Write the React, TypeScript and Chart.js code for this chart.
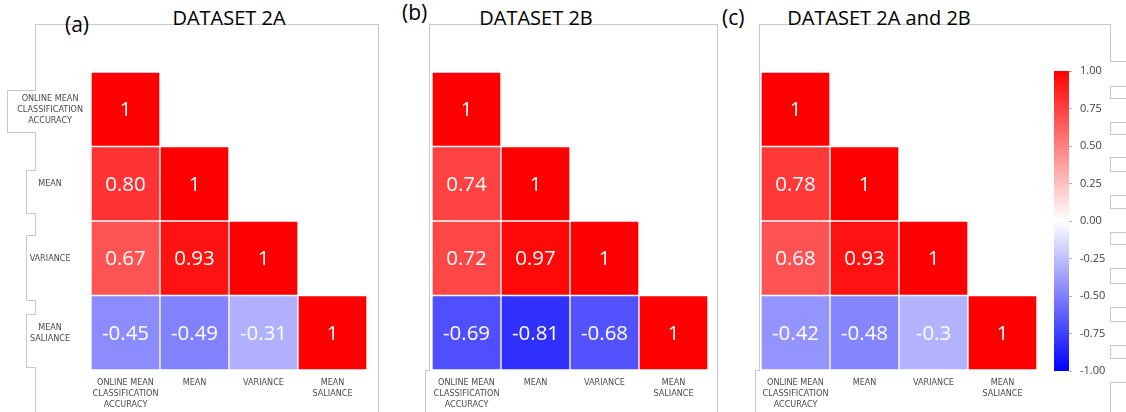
import React, { useEffect, useRef } from "react";
import { Chart, registerables } from "chart.js";
Chart.register(...registerables);

// ---------- data ----------
const variableLabels: string[][] = [
  ["ONLINE MEAN", "CLASSIFICATION", "ACCURACY"],
  ["MEAN"],
  ["VARIANCE"],
  ["MEAN", "SALIANCE"],
];
// lower-triangular correlation matrices (row i, columns 0..i)
const corr2A: string[][] = [
  ["1"],
  ["0.80", "1"],
  ["0.67", "0.93", "1"],
  ["-0.45", "-0.49", "-0.31", "1"],
];
const corr2B: string[][] = [
  ["1"],
  ["0.74", "1"],
  ["0.72", "0.97", "1"],
  ["-0.69", "-0.81", "-0.68", "1"],
];
const corr2AB: string[][] = [
  ["1"],
  ["0.78", "1"],
  ["0.68", "0.93", "1"],
  ["-0.42", "-0.48", "-0.3", "1"],
];
const panelTitles = ["DATASET 2A", "DATASET 2B", "DATASET 2A and 2B"];
const panelTags = ["(a)", "(b)", "(c)"];
const colorbarMin = -1;
const colorbarMax = 1;
const colorbarStep = 0.25;

// ---------- styling helpers ----------
const LABEL_FONT = "'DejaVu Sans Condensed', 'DejaVu Sans', sans-serif";
const MAIN_FONT = "'Open Sans', sans-serif";
const FRAME = "#c8c8c8";

function corrColor(v: number): string {
  if (v >= 0) {
    const c = Math.round(255 * (1 - v));
    return `rgb(255,${c},${c})`;
  }
  const c = Math.round(255 * (1 + v));
  return `rgb(${c},${c},255)`;
}

type HeatProps = {
  corr: string[][];
  showY: boolean;
  left: number;
  top: number;
  width: number;
  height: number;
  padLeft: number;
  padRight: number;
  padTop: number;
  yWidth: number;
};

function Heatmap(p: HeatProps) {
  const ref = useRef<HTMLCanvasElement | null>(null);
  useEffect(() => {
    if (!ref.current) return;
    const n = variableLabels.length;
    const datasets = p.corr.map((row, i) => ({
      data: variableLabels.map((_, j) => (j < row.length ? [i - 0.5, i + 0.5] : null)),
      backgroundColor: variableLabels.map((_, j) =>
        j < row.length ? corrColor(parseFloat(row[j])) : "rgba(0,0,0,0)"
      ),
      borderColor: "rgba(255,255,255,0.85)",
      borderWidth: 1,
      borderSkipped: false,
      barPercentage: 1,
      categoryPercentage: 1,
      grouped: false,
    }));
    const corr = p.corr;
    const valuePlugin = {
      id: "valueLabels",
      afterDatasetsDraw(chart: any) {
        const ctx = chart.ctx;
        ctx.save();
        ctx.font = `20.5px ${MAIN_FONT}`;
        ctx.fillStyle = "#ffffff";
        ctx.textAlign = "center";
        ctx.textBaseline = "middle";
        chart.data.datasets.forEach((_: any, i: number) => {
          const meta = chart.getDatasetMeta(i);
          meta.data.forEach((el: any, j: number) => {
            const txt = corr[i][j];
            if (txt === undefined) return;
            const { x, y, base } = el.getProps(["x", "y", "base"], true);
            ctx.fillText(txt, x, (y + base) / 2 + 1);
          });
        });
        ctx.restore();
      },
    };
    const chart = new Chart(ref.current, {
      type: "bar",
      data: { labels: variableLabels as any, datasets: datasets as any },
      options: {
        animation: false,
        responsive: false,
        layout: { padding: { left: p.padLeft, right: p.padRight, top: p.padTop, bottom: 0 } },
        plugins: { legend: { display: false }, tooltip: { enabled: false } },
        scales: {
          x: {
            type: "category",
            grid: { display: false },
            border: { display: false },
            ticks: {
              color: "#4a4a4a",
              font: { family: LABEL_FONT, size: 9, lineHeight: 1.22 },
              padding: -1,
              maxRotation: 0,
              autoSkip: false,
            },
            afterFit: (s: any) => {
              s.height = 42;
            },
          },
          y: {
            type: "linear",
            display: p.showY,
            min: -0.5,
            max: n - 0.5,
            reverse: true,
            grid: { display: false },
            border: { display: false },
            afterBuildTicks: (s: any) => {
              s.ticks = variableLabels.map((_, i) => ({ value: i }));
            },
            ticks: {
              callback: (v: any) => variableLabels[v] as any,
              crossAlign: "center",
              padding: 0,
              color: "#4a4a4a",
              font: { family: LABEL_FONT, size: 9, lineHeight: 1.22 },
            },
            afterFit: (s: any) => {
              s.width = p.yWidth;
            },
          },
        },
      } as any,
      plugins: [valuePlugin],
    });
    return () => chart.destroy();
  }, []);
  return (
    <canvas
      ref={ref}
      width={p.width}
      height={p.height}
      style={{ position: "absolute", left: p.left, top: p.top, width: p.width, height: p.height }}
    />
  );
}

function ColorBar() {
  const ref = useRef<HTMLCanvasElement | null>(null);
  useEffect(() => {
    if (!ref.current) return;
    const chart = new Chart(ref.current, {
      type: "bar",
      data: {
        labels: [""],
        datasets: [
          {
            data: [[colorbarMin, colorbarMax]] as any,
            backgroundColor: (c: any) => {
              const a = c.chart.chartArea;
              if (!a) return "#ff0000";
              const g = c.chart.ctx.createLinearGradient(0, a.top, 0, a.bottom);
              g.addColorStop(0, corrColor(1));
              g.addColorStop(0.5, corrColor(0));
              g.addColorStop(1, corrColor(-1));
              return g;
            },
            borderWidth: 0,
            barPercentage: 1,
            categoryPercentage: 1,
          },
        ],
      },
      options: {
        animation: false,
        responsive: false,
        layout: { padding: { left: 14, right: 0, top: 21, bottom: 24 } },
        plugins: { legend: { display: false }, tooltip: { enabled: false } },
        scales: {
          x: { display: false },
          y: {
            position: "right",
            min: colorbarMin,
            max: colorbarMax,
            grid: { drawOnChartArea: false, drawTicks: true, tickLength: 3, color: "#b0b0b0" },
            border: { display: false },
            ticks: {
              stepSize: colorbarStep,
              callback: (v: any) => Number(v).toFixed(2),
              color: "#404040",
              font: { family: MAIN_FONT, size: 11 },
              padding: 8,
            },
            afterFit: (s: any) => {
              s.width = 57;
            },
          },
        },
      } as any,
    });
    return () => chart.destroy();
  }, []);
  return (
    <canvas
      ref={ref}
      width={86}
      height={345}
      style={{ position: "absolute", left: 1040, top: 50, width: 86, height: 345 }}
    />
  );
}

// frame decoration lines [x1, y1, x2, y2]
const frameSegments: number[][] = [
  // panel a
  [35, 24, 378, 24], [378, 24, 378, 412],
  [35, 24, 35, 90], [7, 90, 35, 90], [7, 90, 7, 132], [7, 132, 35, 132], [35, 132, 35, 170],
  [26, 170, 35, 170], [26, 170, 26, 213], [26, 213, 35, 213], [35, 213, 35, 235],
  [26, 235, 35, 235], [26, 235, 26, 300], [26, 300, 35, 300], [35, 300, 35, 314],
  [26, 314, 35, 314], [26, 314, 26, 367], [26, 367, 35, 367], [35, 367, 35, 412],
  // panel b
  [429, 24, 717, 24], [717, 24, 717, 412], [429, 24, 429, 370], [425, 370, 429, 370], [425, 370, 425, 412],
  [700, 24, 717, 24],
  // panel c
  [759, 24, 1110, 24], [1110, 24, 1110, 61], [1110, 61, 1126, 61],
  [759, 24, 759, 370], [755, 370, 759, 370], [755, 370, 755, 412],
];
const sideBoxes: number[][] = [
  [86, 97], [122, 133], [157, 170], [195, 207], [232, 243], [268, 282], [307, 320], [345, 357], [382, 430],
];

export default function App() {
  return (
    <div
      style={{
        position: "absolute",
        left: 0,
        top: 0,
        width: 1126,
        height: 412,
        overflow: "hidden",
        background: "#fff",
      }}
    >
      {frameSegments.map(([x1, y1, x2, y2], k) => (
        <div
          key={"s" + k}
          style={{
            position: "absolute",
            left: Math.min(x1, x2),
            top: Math.min(y1, y2),
            width: Math.abs(x2 - x1) + 1,
            height: Math.abs(y2 - y1) + 1,
            background: FRAME,
          }}
        />
      ))}
      {sideBoxes.map(([y1, y2], k) => (
        <div
          key={"b" + k}
          style={{
            position: "absolute",
            left: 1110,
            top: y1,
            width: 30,
            height: y2 - y1,
            border: `1px solid ${FRAME}`,
          }}
        />
      ))}
      <Heatmap corr={corr2A} showY={true} left={0} top={40} width={380} height={372}
        padLeft={0} padRight={13} padTop={32} yWidth={91} />
      <Heatmap corr={corr2B} showY={false} left={400} top={40} width={330} height={372}
        padLeft={32} padRight={22} padTop={32} yWidth={0} />
      <Heatmap corr={corr2AB} showY={false} left={740} top={40} width={310} height={372}
        padLeft={21} padRight={13} padTop={32} yWidth={0} />
      <ColorBar />
      {[229, 536, 879].map((cx, k) => (
        <div
          key={"t" + k}
          style={{
            position: "absolute",
            left: cx,
            top: 7,
            transform: "translateX(-50%)",
            fontFamily: MAIN_FONT,
            fontSize: 20,
            lineHeight: "21px",
            whiteSpace: "nowrap",
            color: "#000",
          }}
        >
          {panelTitles[k]}
        </div>
      ))}
      {[
        [65, 14],
        [402, 2],
        [722, 7],
      ].map(([x, y], k) => (
        <div
          key={"g" + k}
          style={{
            position: "absolute",
            left: x,
            top: y,
            fontFamily: MAIN_FONT,
            fontSize: 21,
            lineHeight: "21px",
            whiteSpace: "nowrap",
            color: "#000",
          }}
        >
          {panelTags[k]}
        </div>
      ))}
    </div>
  );
}
